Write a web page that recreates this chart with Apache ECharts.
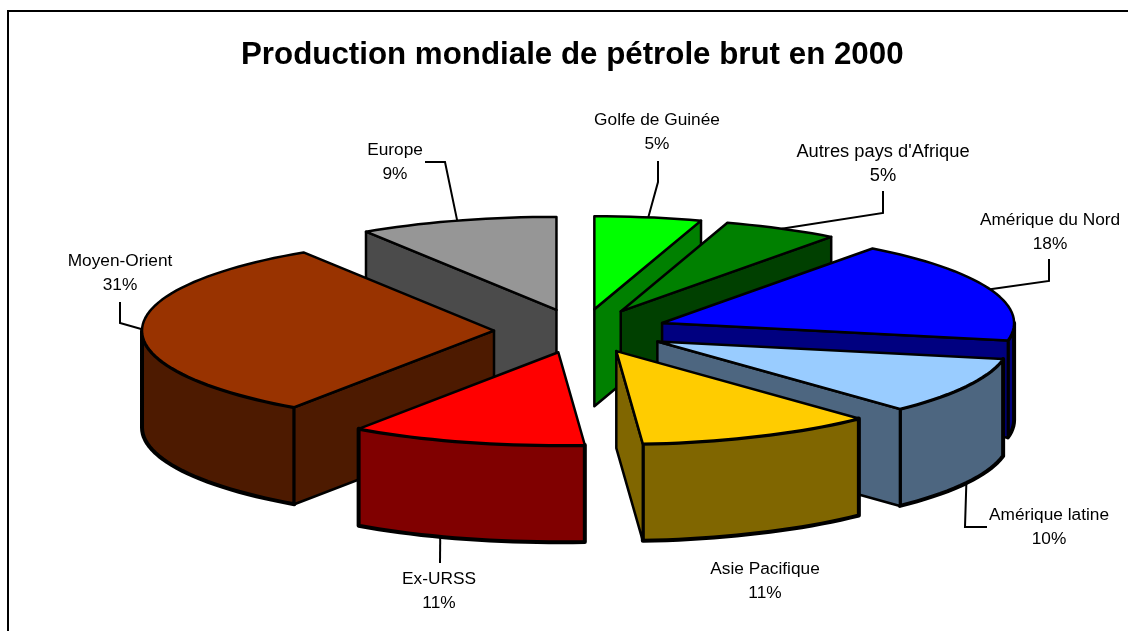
<!DOCTYPE html>
<html><head><meta charset="utf-8">
<script src="https://cdn.jsdelivr.net/npm/echarts@6/dist/echarts.min.js"></script>
<style>html,body{margin:0;padding:0;background:#fff}#c{width:1128px;height:631px}</style>
</head><body><div id="c"></div>
<script>
// Data, clockwise from twelve o'clock (labels show the rounded share)
const categories = ['Golfe de Guinée', "Autres pays d'Afrique", 'Amérique du Nord', 'Amérique latine', 'Asie Pacifique', 'Ex-URSS', 'Moyen-Orient', 'Europe'];
const shares = [4.9, 5.3, 17.8, 9.9, 10.9, 10.8, 31.3, 9.1];
// Styles
const topColors = ['#00ff00', '#008000', '#0000ff', '#99ccff', '#ffcc00', '#ff0000', '#993300', '#969696'];
const wallColors = ['#008000', '#004000', '#000080', '#4d6680', '#806600', '#800000', '#4d1a00', '#4b4b4b'];
// Layout (painter's order, label centres, label sizes, leader elbows)
const drawOrder = [7, 0, 1, 2, 3, 6, 4, 5];
const labelCentres = [[657,132],[883,164],[1050,232],[1049,527],[765,581],[439,591],[120,273],[395,162]];
const labelSizes = [17.3, 18.3, 17.3, 17.3, 17.3, 17.3, 17.3, 17.3];
const leaderPaths = [
  [[658,161],[658,182]],
  [[883,191],[883,213]],
  [[1049,259],[1049,281]],
  [[987,527],[965,527]],
  null,
  [[440,563]],
  [[120,302],[120,323]],
  [[425,162],[445,162]]
];
const leaderAngles = [null, null, null, null, null, 199.6, null, null];
const pie = {cx:581, cy:331, rx:352, ry:93, depth:97, explodeX:87, explodeY:22};

const total = shares.reduce((a,b)=>a+b,0);
const starts = []; let acc = 0;
shares.forEach(v => { starts.push(acc/total*360); acc += v; });

function rim(apex, deg, drop) {
  const t = deg*Math.PI/180;
  return [apex[0]+pie.rx*Math.sin(t), apex[1]-pie.ry*Math.cos(t)+(drop||0)];
}
function arc(apex, a0, a1, drop) {
  const n = Math.max(2, Math.ceil(Math.abs(a1-a0)/2)), out=[];
  for (let i=0;i<=n;i++) out.push(rim(apex, a0+(a1-a0)*i/n, drop));
  return out;
}
function renderItem(params, api) {
  const i = api.value(0), share = api.value(1);
  const a0 = starts[i], a1 = a0 + share/total*360, mid = (a0+a1)/2*Math.PI/180;
  const apex = [pie.cx+pie.explodeX*Math.sin(mid), pie.cy-pie.explodeY*Math.cos(mid)];
  const children = [];
  const fillT = topColors[i], fillW = wallColors[i];
  const poly = (points, fill, lw) => children.push({type:'polygon', shape:{points},
    style:{fill, stroke:'#000', lineWidth:lw, lineJoin:'round'}});
  const s = a => Math.sin(a*Math.PI/180);
  // curved outer wall, front half only
  const f0 = Math.max(a0,90), f1 = Math.min(a1,270);
  if (f1 > f0) poly(arc(apex,f0,f1,0).concat(arc(apex,f1,f0,pie.depth)), fillW, 4);
  // radial cut walls that face the viewer
  const radial = a => { const p = rim(apex,a,0), q = rim(apex,a,pie.depth);
    poly([apex, p, q, [apex[0],apex[1]+pie.depth]], fillW, 2.5); };
  if (s(a0) < -1e-6) radial(a0);
  if (s(a1) > 1e-6) radial(a1);
  // top face
  poly([apex].concat(arc(apex,a0,a1,0)), fillT, 2.5);
  // leader line
  if (leaderPaths[i]) {
    const aa = leaderAngles[i] !== null ? leaderAngles[i] : (a0+a1)/2;
    const front = Math.cos(aa*Math.PI/180) < 0 ;
    const anchor = rim(apex, aa, front ? pie.depth : 0);
    children.push({type:'polyline', shape:{points:[anchor].concat(leaderPaths[i].slice().reverse())},
      style:{fill:'none', stroke:'#000', lineWidth:2}});
  }
  children.push({type:'text', style:{text:categories[i]+'\n'+Math.round(share)+'%', x:labelCentres[i][0], y:labelCentres[i][1],
    align:'center', verticalAlign:'middle', fill:'#000', fontFamily:'Liberation Sans', fontSize:labelSizes[i], lineHeight:24}});
  return {type:'group', children};
}
const chart = echarts.init(document.getElementById('c'));
chart.setOption({
  animation:false,
  backgroundColor:'#fff',
  title:{text:'Production mondiale de pétrole brut en 2000', left:236, top:35,
    textStyle:{fontFamily:'Liberation Sans', fontWeight:'bold', fontSize:31.3, color:'#000'}},
  graphic:[{type:'rect', shape:{x:8,y:11,width:1160,height:660}, style:{fill:'none',stroke:'#000',lineWidth:2}, z:-1}],
  series:[{type:'custom', coordinateSystem:'none', renderItem,
    data: drawOrder.map(i=>[i, shares[i]]), silent:true, clip:false}]
});
</script></body></html>
